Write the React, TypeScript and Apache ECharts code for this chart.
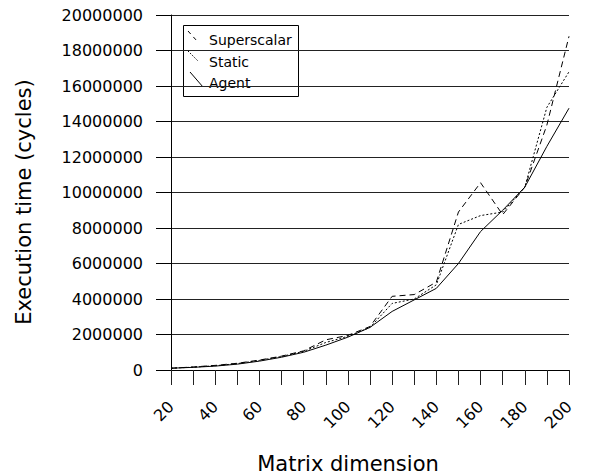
import React, { useEffect, useRef } from "react";
import * as echarts from "echarts";

const dims = [20, 30, 40, 50, 60, 70, 80, 90, 100, 110, 120, 130, 140, 150, 160, 170, 180, 190, 200];
const superscalar = [100000, 170000, 260000, 380000, 560000, 780000, 1080000, 1700000, 1950000, 2450000, 4150000, 4250000, 4950000, 8900000, 10550000, 8750000, 10300000, 13800000, 18800000];
const staticVals = [100000, 160000, 240000, 360000, 540000, 760000, 1050000, 1550000, 1900000, 2400000, 3750000, 4000000, 4800000, 8200000, 8700000, 8900000, 10300000, 14800000, 16800000];
const agent = [100000, 150000, 220000, 330000, 500000, 720000, 1000000, 1400000, 1850000, 2400000, 3300000, 3950000, 4600000, 6000000, 7800000, 9000000, 10300000, 12600000, 14750000];
const seriesNames = ["Superscalar", "Static", "Agent"];

const FONT = "DejaVu Sans";

export default function App() {
  const ref = useRef<HTMLDivElement>(null);
  useEffect(() => {
    if (!ref.current) return;
    const chart = echarts.init(ref.current, undefined, { renderer: "svg" });
    const mk = (vals: number[]) => dims.map((d, i) => [d, vals[i]]);
    const dashes: any[] = [[6, 4], [2, 2], "solid"];
    const datas = [superscalar, staticVals, agent];
    chart.setOption({
      animation: false,
      backgroundColor: "#fff",
      grid: { left: 171, right: 20, top: 15, bottom: 106 },
      xAxis: {
        type: "value",
        min: 20,
        max: 200,
        interval: 10,
        axisLine: { show: true, lineStyle: { color: "#000", width: 1 } },
        axisTick: { show: true, length: 15, lineStyle: { color: "#222", width: 1 } },
        splitLine: { show: false },
        axisLabel: {
          rotate: 45,
          margin: 34,
          fontFamily: FONT,
          fontSize: 16,
          color: "#000",
          formatter: (v: number) => (v % 20 === 0 ? String(v) : ""),
        },
      },
      yAxis: {
        type: "value",
        min: 0,
        max: 20000000,
        interval: 2000000,
        axisLine: { show: true, lineStyle: { color: "#000", width: 1 } },
        axisTick: { show: true, length: 15, lineStyle: { color: "#000", width: 1 } },
        splitLine: { show: true, lineStyle: { color: "#222", width: 1 } },
        axisLabel: { margin: 28, fontFamily: FONT, fontSize: 16, color: "#000", formatter: (v: number) => String(v) },
      },
      series: seriesNames.map((name, i) => ({
        name,
        type: "line",
        data: mk(datas[i]),
        showSymbol: false,
        symbol: "none",
        lineStyle: { color: "#000", width: 1, type: dashes[i] },
        z: 3,
      })),
      graphic: [
        {
          type: "text",
          x: 348,
          y: 464,
          style: { text: "Matrix dimension", font: `21px "${FONT}"`, fill: "#000", textAlign: "center", textVerticalAlign: "middle" },
        },
        {
          type: "text",
          x: 24,
          y: 202,
          rotation: Math.PI / 2,
          style: { text: "Execution time (cycles)", font: `21px "${FONT}"`, fill: "#000", textAlign: "center", textVerticalAlign: "middle" },
        },
        {
          type: "group",
          z: 100,
          children: [
            { type: "rect", shape: { x: 183.5, y: 25.5, width: 115, height: 71 }, style: { fill: "#fff", stroke: "#000", lineWidth: 1 } },
            { type: "line", shape: { x1: 188, y1: 31, x2: 197, y2: 41 }, style: { stroke: "#000", lineWidth: 1, lineDash: [4, 4] } },
            { type: "line", shape: { x1: 188, y1: 51, x2: 198, y2: 61 }, style: { stroke: "#000", lineWidth: 1, lineDash: [1.5, 1.5] } },
            { type: "line", shape: { x1: 190, y1: 72, x2: 203, y2: 87 }, style: { stroke: "#000", lineWidth: 1 } },
            { type: "text", x: 209, y: 40, style: { text: seriesNames[0], font: `14px "${FONT}"`, fill: "#000", textVerticalAlign: "middle" } },
            { type: "text", x: 209, y: 61.5, style: { text: seriesNames[1], font: `14px "${FONT}"`, fill: "#000", textVerticalAlign: "middle" } },
            { type: "text", x: 209, y: 82.5, style: { text: seriesNames[2], font: `14px "${FONT}"`, fill: "#000", textVerticalAlign: "middle" } },
          ],
        },
      ],
    });
    return () => chart.dispose();
  }, []);
  return <div ref={ref} style={{ width: 589, height: 476, position: "absolute", left: 0, top: 0 }} />;
}
